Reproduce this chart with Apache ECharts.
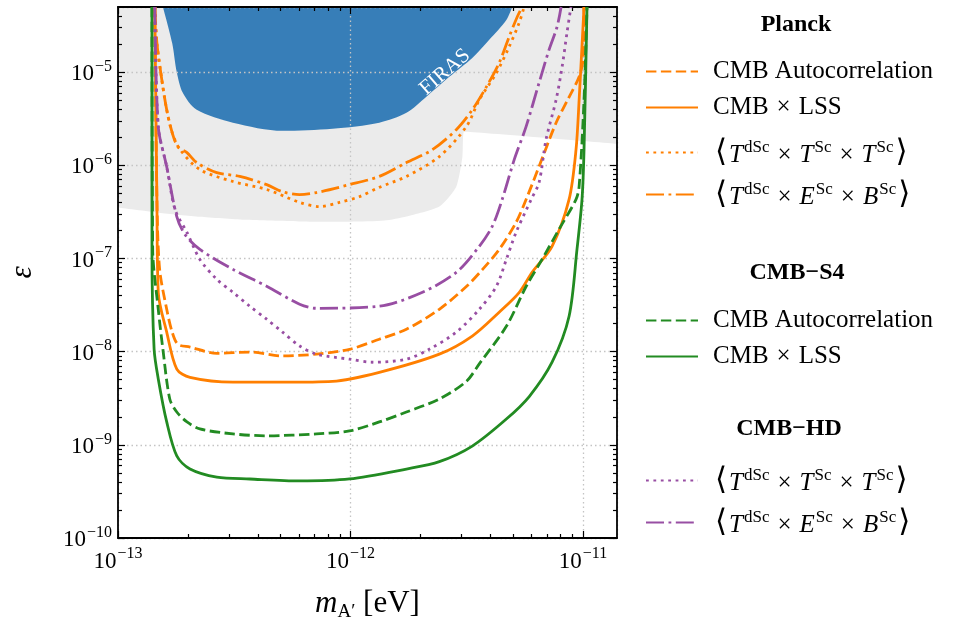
<!DOCTYPE html>
<html><head><meta charset="utf-8">
<script src="https://cdn.jsdelivr.net/npm/echarts@6/dist/echarts.min.js"></script>
<style>html,body{margin:0;padding:0;background:#fff}#c{width:954px;height:620px}</style>
</head><body><div id="c"></div>
<script>
// ---- axis ranges ----
const X_MIN = 1e-13, X_MAX = 1.4e-11;
const Y_MIN = 1e-10, Y_MAX = 5e-5;
const minorMultipliers = [2,3,4,5,6,7,8,9];

// ---- filled regions [m_A' (eV), epsilon] ----
const existingBoundary = [[1e-13,3.52e-7],[1.5e-13,3.1e-7],[2.25e-13,2.8e-7],[3.5e-13,2.6e-7],[6e-13,2.5e-7],[1e-12,2.48e-7],[1.4e-12,2.55e-7],[1.74e-12,2.82e-7],[2.41e-12,3.61e-7],[2.85e-12,5.9e-7],[3.03e-12,1.24e-6],[3.08e-12,2.29e-6],[1.4e-11,1.7e-6]];
const firasBoundary = [[1.56e-13,5e-5],[1.71e-13,2.06e-5],[1.79e-13,1.0e-5],[1.9e-13,6.0e-6],[2.18e-13,3.94e-6],[3.12e-13,2.87e-6],[5.1e-13,2.35e-6],[8.37e-13,2.47e-6],[1.33e-12,2.87e-6],[1.74e-12,3.66e-6],[2.12e-12,5.45e-6],[2.66e-12,8.9e-6],[3.34e-12,1.42e-5],[3.95e-12,2.22e-5],[4.68e-12,3.63e-5],[4.96e-12,5e-5]];

// ---- Planck ----
const planckAuto = [[1.44e-13,5e-5],[1.47e-13,4.3e-7],[1.51e-13,7.7e-8],[1.62e-13,2.85e-8],[1.71e-13,1.62e-8],[1.81e-13,1.2e-8],[2.04e-13,1.12e-8],[2.66e-13,9.6e-9],[3.69e-13,9.9e-9],[5.1e-13,9.0e-9],[7.14e-13,9.4e-9],[9.9e-13,1.06e-8],[1.33e-12,1.36e-8],[1.74e-12,1.74e-8],[2.41e-12,2.85e-8],[3.15e-12,5.0e-8],[3.69e-12,7.6e-8],[4.36e-12,1.25e-7],[5.15e-12,2.43e-7],[5.69e-12,4.3e-7],[6.47e-12,9.7e-7],[7.66e-12,2.86e-6],[8.71e-12,5.4e-6],[9.62e-12,8.9e-6],[1.0e-11,1.36e-5],[1.01e-11,5e-5]];
const planckLSS = [[1.44e-13,5e-5],[1.47e-13,4.3e-7],[1.49e-13,4.3e-8],[1.62e-13,1.62e-8],[1.79e-13,6.5e-9],[2.04e-13,5.3e-9],[3.12e-13,4.7e-9],[5.1e-13,4.7e-9],[8.37e-13,4.8e-9],[1.33e-12,6.0e-9],[2.41e-12,9.4e-9],[3.34e-12,1.47e-8],[4.36e-12,2.65e-8],[5.31e-12,4.3e-8],[6.04e-12,7.1e-8],[7.36e-12,1.35e-7],[8.71e-12,4.3e-7],[9.33e-12,1.47e-6],[9.62e-12,5.0e-6],[1.01e-11,5e-5]];
const planckTTT = [[1.44e-13,5e-5],[1.47e-13,2.06e-5],[1.55e-13,7.7e-6],[1.62e-13,3.94e-6],[1.71e-13,2.24e-6],[1.85e-13,1.47e-6],[2.25e-13,9.0e-7],[3.12e-13,6.7e-7],[4.36e-13,5.5e-7],[6.04e-13,4.0e-7],[7.36e-13,3.6e-7],[8.97e-13,4.0e-7],[1.09e-12,4.6e-7],[1.33e-12,5.8e-7],[1.74e-12,7.6e-7],[2.41e-12,1.24e-6],[3.15e-12,2.6e-6],[3.58e-12,5.05e-6],[4.24e-12,9.8e-6],[4.81e-12,1.87e-5],[5.31e-12,3.37e-5],[5.58e-12,5e-5]];
const planckTEB = [[1.44e-13,5e-5],[1.47e-13,2.06e-5],[1.55e-13,7.7e-6],[1.62e-13,3.94e-6],[1.71e-13,2.24e-6],[1.81e-13,1.58e-6],[1.98e-13,1.37e-6],[2.18e-13,1.07e-6],[2.66e-13,8.35e-7],[3.34e-13,7.6e-7],[4.36e-13,6.2e-7],[5.1e-13,5.2e-7],[6.04e-13,4.85e-7],[7.14e-13,5.1e-7],[9.9e-13,6.2e-7],[1.33e-12,7.6e-7],[1.74e-12,1.07e-6],[2.25e-12,1.47e-6],[2.85e-12,2.41e-6],[3.34e-12,3.94e-6],[3.84e-12,6.95e-6],[4.36e-12,1.26e-5],[4.81e-12,2.39e-5],[5.21e-12,3.91e-5],[5.47e-12,5e-5]];

// ---- CMB-S4 ----
const s4Auto = [[1.40e-13,5e-5],[1.41e-13,1.25e-7],[1.49e-13,2.85e-8],[1.56e-13,1.06e-8],[1.67e-13,3.1e-9],[1.79e-13,2.25e-9],[1.98e-13,1.76e-9],[2.25e-13,1.48e-9],[3.12e-13,1.31e-9],[4.36e-13,1.25e-9],[7.14e-13,1.31e-9],[9.9e-13,1.41e-9],[1.33e-12,1.76e-9],[1.74e-12,2.25e-9],[2.41e-12,3.1e-9],[3.15e-12,4.8e-9],[3.58e-12,7.4e-9],[4.68e-12,1.87e-8],[5.69e-12,5.0e-8],[6.67e-12,9.8e-8],[7.88e-12,2.05e-7],[9.33e-12,4.3e-7],[9.62e-12,5.9e-7],[1.01e-11,5.0e-6],[1.04e-11,5e-5]];
const s4LSS = [[1.40e-13,5e-5],[1.40e-13,1.25e-7],[1.43e-13,1.06e-8],[1.49e-13,5.1e-9],[1.62e-13,1.76e-9],[1.79e-13,7.6e-10],[2.04e-13,5.5e-10],[2.66e-13,4.5e-10],[3.69e-13,4.3e-10],[6.04e-13,4.1e-10],[9.9e-13,4.3e-10],[1.74e-12,5.5e-10],[2.41e-12,6.6e-10],[3.34e-12,9.7e-10],[4.68e-12,1.89e-9],[5.87e-12,3.3e-9],[7.36e-12,7.7e-9],[8.71e-12,2.4e-8],[9.42e-12,1.25e-7],[9.9e-12,4.3e-7],[1.01e-11,1.47e-6],[1.04e-11,5e-5]];

// ---- CMB-HD ----
const hdTTT = [[1.44e-13,5e-5],[1.49e-13,2.59e-6],[1.62e-13,9.66e-7],[1.76e-13,3.35e-7],[1.98e-13,1.9e-7],[2.25e-13,9.77e-8],[2.66e-13,5.97e-8],[3.12e-13,4.34e-8],[3.69e-13,3.07e-8],[4.36e-13,2.23e-8],[5.1e-13,1.62e-8],[6.04e-13,1.15e-8],[7.14e-13,9.4e-9],[9.9e-13,8.3e-9],[1.24e-12,7.7e-9],[1.74e-12,8.3e-9],[2.18e-12,1.06e-8],[2.85e-12,1.62e-8],[3.58e-12,2.85e-8],[4.24e-12,5.03e-8],[4.68e-12,9.77e-8],[5.15e-12,1.9e-7],[5.98e-12,4.29e-7],[6.47e-12,6.53e-7],[6.93e-12,1.88e-6],[7.66e-12,5.05e-6],[8.13e-12,1.14e-5],[8.53e-12,2.64e-5],[8.87e-12,5e-5]];
const hdTEB = [[1.44e-13,5e-5],[1.49e-13,2.59e-6],[1.62e-13,9.66e-7],[1.79e-13,2.82e-7],[1.94e-13,1.81e-7],[2.25e-13,1.25e-7],[3.12e-13,7.64e-8],[4.36e-13,5.03e-8],[6.04e-13,3.23e-8],[7.14e-13,2.92e-8],[1.33e-12,3.07e-8],[2.04e-12,4.34e-8],[2.85e-12,7.1e-8],[3.58e-12,1.35e-7],[4.07e-12,2.21e-7],[4.49e-12,4.29e-7],[5.06e-12,1.15e-6],[5.69e-12,2.6e-6],[6.47e-12,7.67e-6],[7.14e-12,1.73e-5],[7.73e-12,3.05e-5],[8.05e-12,5e-5]];

// ---- colours / styles ----
const ORANGE = '#ff7f00', GREEN = '#228b22', PURPLE = '#984ea3';
const LW = 2.8;
const DASHED = [10.4, 4.5], DOTTED = [2.8, 4.6], DASHDOT = [18, 4.5, 2.8, 4.5];
const SERIF = "'Liberation Serif','DejaVu Serif',serif";

const TTT_TEXT = '{br|⟨}{it|T}{sup|dSc}{x|×}{it|T}{sup|Sc}{x|×}{it|T}{sup|Sc}{br|⟩}';
const TEB_TEXT = '{br|⟨}{it|T}{sup|dSc}{x|×}{it|E}{sup|Sc}{x|×}{it|B}{sup|Sc}{br|⟩}';
const legendLabels = {
  planckAuto: '{n|CMB Autocorrelation}',
  planckLSS: '{n|CMB}{x|×}{n|LSS}',
  planckTTT: TTT_TEXT,
  planckTEB: TEB_TEXT,
  s4Auto: '{n|CMB Autocorrelation}',
  s4LSS: '{n|CMB}{x|×}{n|LSS}',
  hdTTT: TTT_TEXT,
  hdTEB: TEB_TEXT
};
const legendCenters = {planckAuto:61, planckLSS:97, planckTTT:139, planckTEB:181, s4Auto:310, s4LSS:346, hdTTT:467, hdTEB:509};

const chart = echarts.init(document.getElementById('c'), null, {renderer:'canvas'});

const L = Math.log10;
function minorList(lo, hi){
  const out=[];
  for(let d=Math.floor(L(lo)); d<=Math.ceil(L(hi)); d++){
    for(const k of minorMultipliers){ const v=L(k)+d; if(v>L(lo)+1e-9 && v<L(hi)-1e-9) out.push(v); }
  }
  return out;
}
function majorList(lo, hi){
  const out=[]; for(let d=Math.ceil(L(lo)-1e-9); d<=Math.floor(L(hi)+1e-9); d++) out.push(d); return out;
}
const tickRich = {
  b:{fontFamily:SERIF, fontSize:23, color:'#000', verticalAlign:'bottom'},
  s:{fontFamily:SERIF, fontSize:16, color:'#000', verticalAlign:'bottom', padding:[0,0,11,1]}
};
function powLabel(v){
  const e=L(v); const r=Math.round(e);
  if(Math.abs(e-r)>1e-6) return '';
  return '{b|10}{s|−'+Math.abs(r)+'}';
}
const tickLine = {color:'#000', width:1.2};
function helperX(pos, values, len, showLine){
  return {type:'value', position:pos, min:L(X_MIN), max:L(X_MAX), z:3,
    axisLine:{show:!!showLine, lineStyle:{color:'#000', width:1.8}},
    axisTick:{show:true, inside:true, length:len, lineStyle:tickLine, customValues:values},
    axisLabel:{show:false}, splitLine:{show:false}};
}
function helperY(pos, values, len, showLine){
  return {type:'value', position:pos, min:L(Y_MIN), max:L(Y_MAX), z:3,
    axisLine:{show:!!showLine, lineStyle:{color:'#000', width:1.8}},
    axisTick:{show:true, inside:true, length:len, lineStyle:tickLine, customValues:values},
    axisLabel:{show:false}, splitLine:{show:false}};
}
const xMaj = majorList(X_MIN,X_MAX), xMin = minorList(X_MIN,X_MAX);
const yMaj = majorList(Y_MIN,Y_MAX), yMin = minorList(Y_MIN,Y_MAX);

function lineSeries(name, data, color, type){
  return {name, type:'line', data, xAxisIndex:0, yAxisIndex:0, showSymbol:false, symbol:'none',
    smooth:0.3, z:5, silent:true, animation:false,
    lineStyle:{color, width:LW, type, cap:'butt', join:'round'}, itemStyle:{color}};
}

const legendRich = {
  n:{fontFamily:SERIF, fontSize:25, color:'#000', verticalAlign:'bottom'},
  x:{fontFamily:SERIF, fontSize:25, color:'#000', verticalAlign:'bottom', padding:[0,8,0,8]},
  it:{fontFamily:SERIF, fontSize:25, fontStyle:'italic', color:'#000', verticalAlign:'bottom'},
  sup:{fontFamily:SERIF, fontSize:17, color:'#000', verticalAlign:'bottom', padding:[0,0,12,1]},
  br:{fontFamily:SERIF, fontSize:31, color:'#000', verticalAlign:'bottom', padding:[0,2,0,2]}
};
const legends = Object.keys(legendLabels).map(k => ({
  data:[k], left:640, top:legendCenters[k]-7, itemWidth:52, itemHeight:14, selectedMode:false,
  itemStyle:{opacity:0},
  formatter: n => legendLabels[n], textStyle:{rich:legendRich, padding:[0,0,0,10]}
}));

const option = {
  animation:false,
  backgroundColor:'#fff',
  grid:{left:118, right:337, top:7, bottom:82, containLabel:false, outerBoundsMode:'none'},
  legend: legends,
  xAxis:[
    {type:'log', logBase:10, min:X_MIN, max:X_MAX, position:'bottom', z:3,
     name:'{it|m}{sub|A′}{n| [eV]}', nameLocation:'middle', nameGap:50,
     nameTextStyle:{rich:{
       it:{fontFamily:SERIF, fontSize:31, fontStyle:'italic', color:'#000', verticalAlign:'top', lineHeight:32},
       sub:{fontFamily:SERIF, fontSize:19, color:'#000', verticalAlign:'top', lineHeight:19, padding:[15,0,0,0]},
       n:{fontFamily:SERIF, fontSize:31, color:'#000', verticalAlign:'top', lineHeight:32}}},
     axisLine:{show:true, lineStyle:{color:'#000', width:1.8}},
     axisTick:{show:false}, minorTick:{show:false},
     axisLabel:{formatter:powLabel, rich:tickRich, margin:8, showMinLabel:true, showMaxLabel:true, hideOverlap:false},
     splitLine:{show:true, lineStyle:{color:'#c4c4c4', width:1.3, type:[1.5,3]}}},
    helperX('bottom', xMaj, 7),
    helperX('bottom', xMin, 4),
    helperX('top', xMaj, 7, true),
    helperX('top', xMin, 4)
  ],
  yAxis:[
    {type:'log', logBase:10, min:Y_MIN, max:Y_MAX, position:'left', z:3,
     name:'ε', nameLocation:'middle', nameGap:80, nameRotate:90,
     nameTextStyle:{fontFamily:SERIF, fontSize:31, fontStyle:'italic', color:'#000'},
     axisLine:{show:true, lineStyle:{color:'#000', width:1.8}},
     axisTick:{show:false}, minorTick:{show:false},
     axisLabel:{formatter:powLabel, rich:tickRich, margin:6, showMinLabel:true, showMaxLabel:true, hideOverlap:false},
     splitLine:{show:true, lineStyle:{color:'#c4c4c4', width:1.3, type:[1.5,3]}}},
    helperY('left', yMaj, 7),
    helperY('left', yMin, 4),
    helperY('right', yMaj, 7, true),
    helperY('right', yMin, 4)
  ],
  series:[
    {name:'existing', type:'line', data:existingBoundary, xAxisIndex:0, yAxisIndex:0, showSymbol:false, symbol:'none',
     smooth:0.2, z:1, silent:true, lineStyle:{width:0}, areaStyle:{origin:'end', color:'#ebebeb', opacity:1}},
    {name:'FIRAS', type:'line', data:firasBoundary, xAxisIndex:0, yAxisIndex:0, showSymbol:false, symbol:'none',
     smooth:0.3, z:1, silent:true, lineStyle:{width:0}, areaStyle:{origin:'end', color:'#377eb8', opacity:1},
     markPoint:{symbol:'circle', symbolSize:0, silent:true, animation:false,
       data:[{coord:[2.55e-12, 1.0e-5], value:'FIRAS'}],
       label:{show:true, position:'inside', formatter:'FIRAS', rotate:41, color:'#fff', fontFamily:SERIF, fontSize:21}}},
    lineSeries('planckAuto', planckAuto, ORANGE, DASHED),
    lineSeries('planckLSS', planckLSS, ORANGE, 'solid'),
    lineSeries('planckTTT', planckTTT, ORANGE, DOTTED),
    lineSeries('planckTEB', planckTEB, ORANGE, DASHDOT),
    lineSeries('s4Auto', s4Auto, GREEN, DASHED),
    lineSeries('s4LSS', s4LSS, GREEN, 'solid'),
    lineSeries('hdTTT', hdTTT, PURPLE, DOTTED),
    lineSeries('hdTEB', hdTEB, PURPLE, DASHDOT)
  ],
  graphic:[
    {type:'text', x:796, y:25, z:10, style:{text:'Planck', textAlign:'center', textVerticalAlign:'middle', fontFamily:SERIF, fontWeight:'bold', fontSize:24, fill:'#000'}},
    {type:'text', x:797, y:273, z:10, style:{text:'CMB−S4', textAlign:'center', textVerticalAlign:'middle', fontFamily:SERIF, fontWeight:'bold', fontSize:24, fill:'#000'}},
    {type:'text', x:789, y:429, z:10, style:{text:'CMB−HD', textAlign:'center', textVerticalAlign:'middle', fontFamily:SERIF, fontWeight:'bold', fontSize:24, fill:'#000'}}
  ]
};
chart.setOption(option);
</script>
</body></html>
